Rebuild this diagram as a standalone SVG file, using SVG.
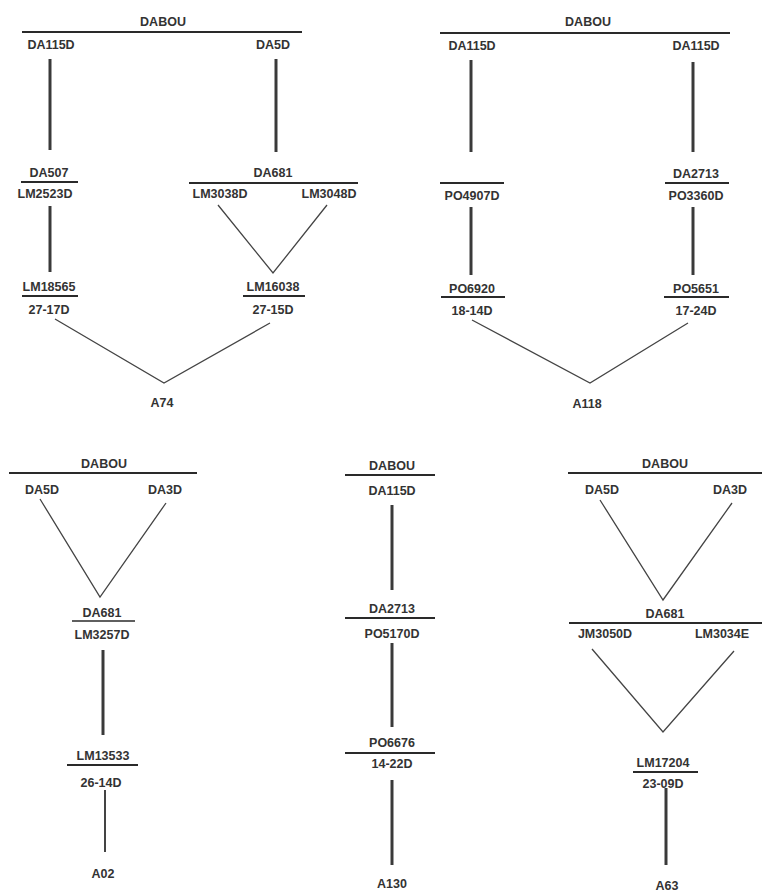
<svg xmlns="http://www.w3.org/2000/svg" width="774" height="895" viewBox="0 0 774 895">
<style>
text{font-family:"Liberation Sans",Arial,sans-serif;font-size:12.5px;font-weight:bold;fill:#333;text-anchor:middle;}
.bar{stroke:#2a2a2a;stroke-width:2;}
.v{stroke:#3a3a3a;stroke-width:3;}
.d{stroke:#444;stroke-width:1.3;fill:none;}
</style>
<rect width="774" height="895" fill="#fff"/>
<g id="connectors">
<line class="v" x1="50" y1="59" x2="50" y2="150"/>
<line class="v" x1="276" y1="59" x2="276" y2="152"/>
<line class="v" x1="50" y1="206" x2="50" y2="272"/>
<polyline class="d" points="218,205 273,273 327,205"/>
<polyline class="d" points="55,319 164,383 270,323"/>
<line class="v" x1="471" y1="60" x2="471" y2="152"/>
<line class="v" x1="693" y1="62" x2="693" y2="152"/>
<line class="v" x1="471" y1="207" x2="471" y2="275"/>
<line class="v" x1="693" y1="207" x2="693" y2="275"/>
<polyline class="d" points="472,320 590,383 688,323"/>
<polyline class="d" points="40,499 100,597 166,503"/>
<line class="v" x1="103" y1="650" x2="103" y2="735"/>
<line class="d" x1="105" y1="790" x2="105" y2="852" style="stroke-width:2"/>
<line class="v" x1="392" y1="505" x2="392" y2="590"/>
<line class="v" x1="392" y1="643" x2="392" y2="727"/>
<line class="v" x1="392" y1="780" x2="392" y2="865"/>
<polyline class="d" points="600,500 663,600 732,503"/>
<polyline class="d" points="592,649 663,732 734,651"/>
<line class="v" x1="666" y1="788" x2="666" y2="865"/>
</g>
<g id="tree-a74">
<g id="a74-dabou"><text x="163" y="26">DABOU</text><line class="bar" x1="22" y1="32" x2="302" y2="32"/></g>
<g id="a74-da115d"><text x="51" y="49">DA115D</text></g>
<g id="a74-da5d"><text x="273" y="49">DA5D</text></g>
<g id="a74-da507"><text x="49" y="177">DA507</text><line class="bar" x1="21" y1="182" x2="78" y2="182"/><text x="45" y="198">LM2523D</text></g>
<g id="a74-da681"><text x="273" y="177">DA681</text><line class="bar" x1="189" y1="183" x2="358" y2="183"/><text x="220" y="198">LM3038D</text><text x="329" y="198">LM3048D</text></g>
<g id="a74-lm18565"><text x="49" y="291">LM18565</text><line class="bar" x1="22" y1="296" x2="78" y2="296"/><text x="49" y="314">27-17D</text></g>
<g id="a74-lm16038"><text x="273" y="291">LM16038</text><line class="bar" x1="243" y1="296" x2="305" y2="296"/><text x="273" y="314">27-15D</text></g>
<g id="a74"><text x="162" y="407">A74</text></g>
</g>
<g id="tree-a118">
<g id="a118-dabou"><text x="588" y="26">DABOU</text><line class="bar" x1="440" y1="33" x2="730" y2="33"/></g>
<g id="a118-da115d-l"><text x="472" y="50">DA115D</text></g>
<g id="a118-da115d-r"><text x="696" y="50">DA115D</text></g>
<g id="a118-po4907d"><line class="bar" x1="440" y1="183" x2="504" y2="183"/><text x="472" y="200">PO4907D</text></g>
<g id="a118-da2713"><text x="696" y="178">DA2713</text><line class="bar" x1="665" y1="183" x2="729" y2="183"/><text x="696" y="200">PO3360D</text></g>
<g id="a118-po6920"><text x="472" y="293">PO6920</text><line class="bar" x1="441" y1="297" x2="505" y2="297"/><text x="472" y="315">18-14D</text></g>
<g id="a118-po5651"><text x="696" y="293">PO5651</text><line class="bar" x1="664" y1="297" x2="729" y2="297"/><text x="696" y="315">17-24D</text></g>
<g id="a118"><text x="587" y="408">A118</text></g>
</g>
<g id="tree-a02">
<g id="a02-dabou"><text x="104" y="468">DABOU</text><line class="bar" x1="9" y1="473" x2="197" y2="473"/></g>
<g id="a02-da5d"><text x="42" y="494">DA5D</text></g>
<g id="a02-da3d"><text x="165" y="494">DA3D</text></g>
<g id="a02-da681"><text x="102" y="617">DA681</text><line class="bar" x1="72" y1="621" x2="135" y2="621" style="stroke-width:1.5"/><text x="102" y="639">LM3257D</text></g>
<g id="a02-lm13533"><text x="103" y="760">LM13533</text><line class="bar" x1="67" y1="765" x2="138" y2="765"/><text x="101" y="787">26-14D</text></g>
<g id="a02"><text x="103" y="878">A02</text></g>
</g>
<g id="tree-a130">
<g id="a130-dabou"><text x="392" y="470">DABOU</text><line class="bar" x1="345" y1="475" x2="435" y2="475"/><text x="392" y="495">DA115D</text></g>
<g id="a130-da2713"><text x="392" y="613">DA2713</text><line class="bar" x1="345" y1="618" x2="435" y2="618"/><text x="392" y="638">PO5170D</text></g>
<g id="a130-po6676"><text x="392" y="747">PO6676</text><line class="bar" x1="345" y1="753" x2="435" y2="753"/><text x="392" y="768">14-22D</text></g>
<g id="a130"><text x="392" y="888">A130</text></g>
</g>
<g id="tree-a63">
<g id="a63-dabou"><text x="665" y="468">DABOU</text><line class="bar" x1="568" y1="473" x2="762" y2="473"/></g>
<g id="a63-da5d"><text x="602" y="494">DA5D</text></g>
<g id="a63-da3d"><text x="730" y="494">DA3D</text></g>
<g id="a63-da681"><text x="665" y="618">DA681</text><line class="bar" x1="569" y1="623" x2="762" y2="623"/><text x="605" y="638">JM3050D</text><text x="722" y="638">LM3034E</text></g>
<g id="a63-lm17204"><text x="663" y="767">LM17204</text><line class="bar" x1="633" y1="772" x2="698" y2="772"/><text x="663" y="788">23-09D</text></g>
<g id="a63"><text x="667" y="890">A63</text></g>
</g>
</svg>
